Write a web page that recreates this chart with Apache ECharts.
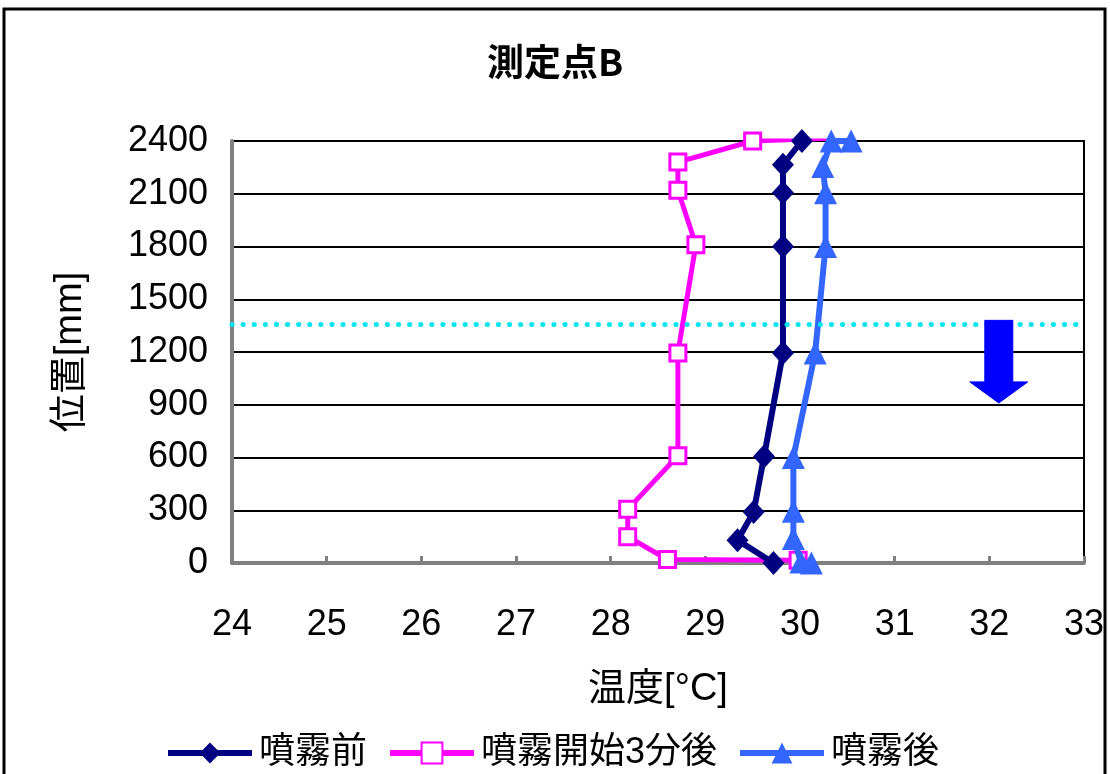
<!DOCTYPE html>
<html>
<head>
<meta charset="utf-8">
<script src="https://cdn.jsdelivr.net/npm/echarts@6/dist/echarts.min.js"></script>
<style>
  html, body { margin: 0; padding: 0; background: #fff; }
  #chart { width: 1110px; height: 774px; }
</style>
</head>
<body>
<div id="chart"></div>
<script>
// Temperature profile along height at measuring point B
const titleText = '測定点B';
const seriesNames = ['噴霧前', '噴霧開始3分後', '噴霧後'];

// 噴霧前
const tempBefore   = [29.72, 29.34, 29.51, 29.62, 29.82, 29.82, 29.82, 29.82, 30.02];
const heightBefore = [0, 130, 290, 605, 1195, 1800, 2105, 2265, 2400];

// 噴霧開始3分後
const tempStart3   = [29.98, 28.60, 28.18, 28.18, 28.71, 28.71, 28.90, 28.71, 28.71, 29.50, 30.49];
const heightStart3 = [15, 20, 150, 305, 610, 1195, 1810, 2120, 2280, 2400, 2420];

// 噴霧後
const tempAfter    = [30.12, 30.01, 29.93, 29.93, 29.93, 30.16, 30.27, 30.27, 30.24, 30.33, 30.54];
const heightAfter  = [0, 5, 140, 295, 600, 1195, 1800, 2105, 2255, 2400, 2400];

// Axis ranges
const xMin = 24, xMax = 33, xStep = 1;
const yMin = 0, yMax = 2400, yStep = 300;

// Reference level and downward arrow annotation
const refLevel = 1360;
const arrowX = 32.1, arrowTop = 1380, arrowNeck = 1030, arrowTip = 910;

const FONT = "'Liberation Sans', 'Noto Sans CJK JP', sans-serif";
const pairs = (xs, ys) => xs.map((x, i) => [x, ys[i]]);

const chart = echarts.init(document.getElementById('chart'), null, { renderer: 'canvas' });

const option = {
  backgroundColor: '#ffffff',
  animation: false,
  title: {
    text: titleText,
    left: 'center',
    top: 38,
    textStyle: { fontFamily: "'Noto Sans CJK JP', sans-serif", fontWeight: 'bold', fontSize: 37, color: '#000' }
  },
  legend: {
    data: seriesNames,
    left: 160,
    top: 730,
    itemWidth: 84,
    itemHeight: 26,
    itemGap: 20,
    lineStyle: { width: 6 },
    textStyle: { fontFamily: FONT, fontSize: 36, color: '#000', padding: [0, 0, 0, 2] }
  },
  grid: {
    left: 232, right: 26, top: 141, bottom: 211,
    show: true, borderColor: '#000', borderWidth: 2, backgroundColor: 'transparent'
  },
  xAxis: {
    type: 'value',
    min: xMin, max: xMax, interval: xStep,
    name: '温度[°C]',
    nameLocation: 'middle',
    nameGap: 108,
    nameTextStyle: { fontFamily: FONT, fontSize: 38, color: '#000' },
    axisLine: { show: true, onZero: false, lineStyle: { color: '#808080', width: 4 } },
    axisTick: { show: true, inside: true, length: 7, lineStyle: { color: '#808080', width: 3 } },
    axisLabel: { fontFamily: FONT, fontSize: 36, color: '#000', margin: 44 },
    splitLine: { show: false }
  },
  yAxis: {
    type: 'value',
    min: yMin, max: yMax, interval: yStep,
    name: '位置[mm]',
    nameLocation: 'middle',
    nameGap: 142,
    nameRotate: 90,
    nameTextStyle: { fontFamily: FONT, fontSize: 38, color: '#000' },
    axisLine: { show: true, onZero: false, lineStyle: { color: '#808080', width: 4 } },
    axisTick: { show: false },
    axisLabel: { fontFamily: FONT, fontSize: 36, color: '#000', margin: 24, formatter: v => String(v) },
    splitLine: { show: true, lineStyle: { color: '#000', width: 2 } }
  },
  series: [
    {
      name: seriesNames[0],
      type: 'line',
      z: 3,
      data: pairs(tempBefore, heightBefore),
      symbol: 'diamond',
      symbolSize: [22, 24],
      lineStyle: { color: '#000080', width: 6 },
      itemStyle: { color: '#000080' }
    },
    {
      name: seriesNames[1],
      type: 'line',
      z: 2,
      data: pairs(tempStart3, heightStart3),
      symbol: 'rect',
      symbolSize: 16,
      lineStyle: { color: '#FF00FF', width: 5 },
      itemStyle: { color: '#ffffff', borderColor: '#FF00FF', borderWidth: 3 },
      markLine: {
        silent: true,
        symbol: 'none',
        label: { show: false },
        lineStyle: { color: '#00E5EE', width: 5, type: [0.1, 11], cap: 'round' },
        data: [{ yAxis: refLevel }]
      }
    },
    {
      name: seriesNames[2],
      type: 'line',
      z: 4,
      data: pairs(tempAfter, heightAfter),
      symbol: 'triangle',
      symbolSize: [23, 23],
      lineStyle: { color: '#3366FF', width: 6 },
      itemStyle: { color: '#3366FF' }
    }
  ]
};

chart.setOption(option);

// Downward arrow below the reference level, placed in data coordinates
const pTop  = chart.convertToPixel({ gridIndex: 0 }, [arrowX, arrowTop]);
const pNeck = chart.convertToPixel({ gridIndex: 0 }, [arrowX, arrowNeck]);
const pTip  = chart.convertToPixel({ gridIndex: 0 }, [arrowX, arrowTip]);
const shaftHalf = 14, headHalf = 29;

chart.setOption({
  graphic: [
    {
      type: 'rect',
      z: 100,
      shape: { x: 4, y: 9, width: 1101, height: 800 },
      style: { fill: 'none', stroke: '#000', lineWidth: 3 }
    },
    {
      type: 'polygon',
      z: 50,
      shape: {
        points: [
          [pTop[0] - shaftHalf, pTop[1]],
          [pTop[0] + shaftHalf, pTop[1]],
          [pTop[0] + shaftHalf, pNeck[1]],
          [pTop[0] + headHalf, pNeck[1]],
          [pTip[0], pTip[1]],
          [pTop[0] - headHalf, pNeck[1]],
          [pTop[0] - shaftHalf, pNeck[1]]
        ]
      },
      style: { fill: '#0000FF', stroke: '#0000FF', lineWidth: 1 }
    }
  ]
});
</script>
</body>
</html>
